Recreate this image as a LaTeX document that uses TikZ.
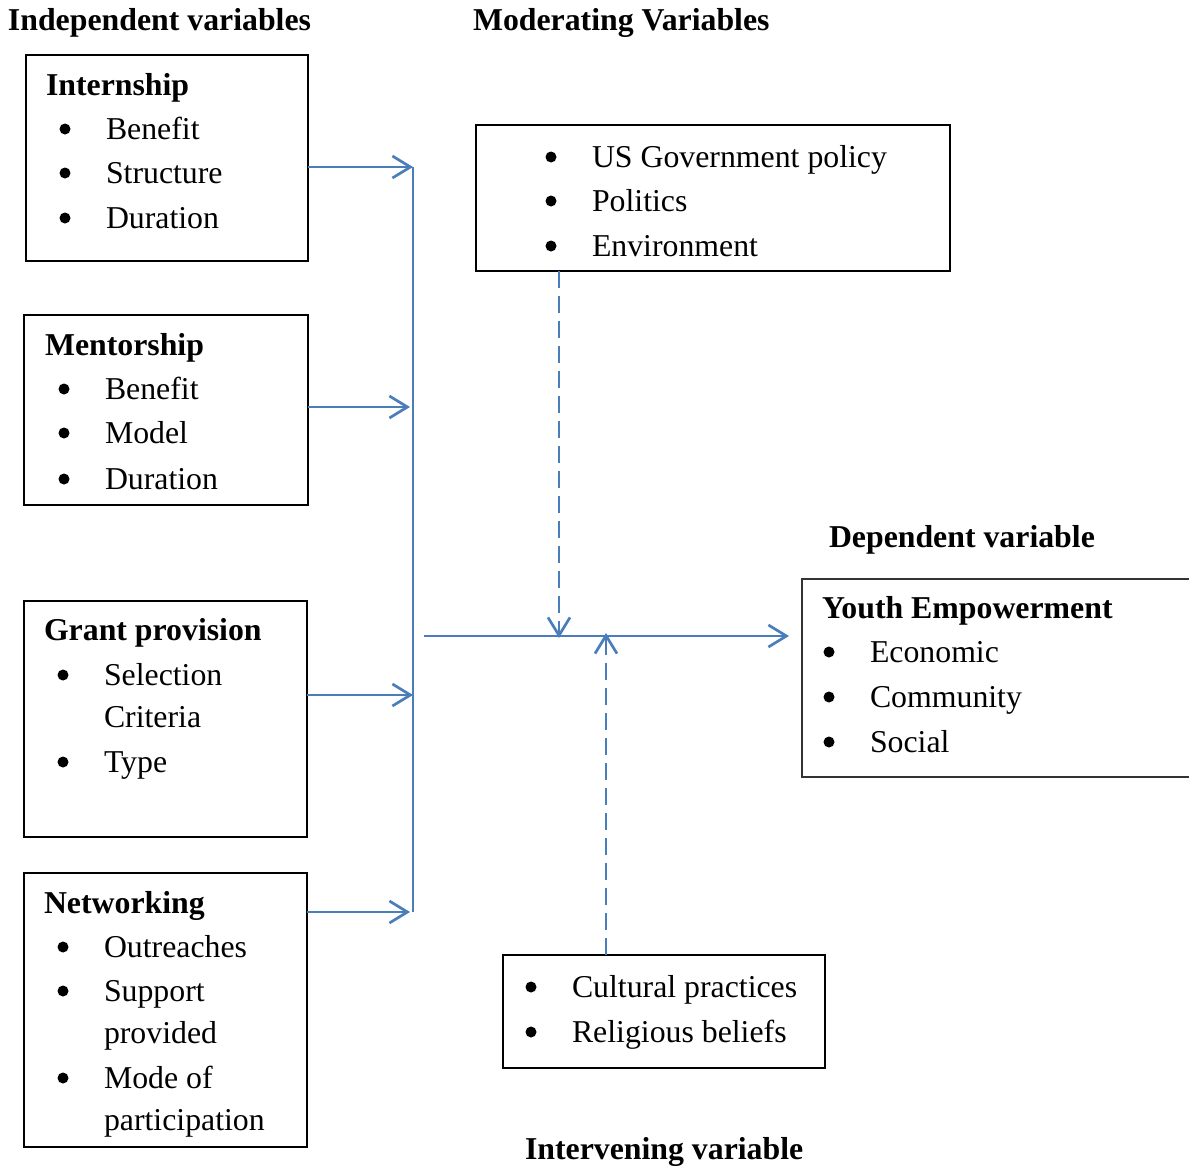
\documentclass[tikz,border=0pt]{standalone}
\usepackage{fontspec}
\setmainfont{Liberation Serif}
\usetikzlibrary{arrows.meta}
\definecolor{arrowblue}{HTML}{4A7EBB}
\begin{document}
\begin{tikzpicture}[x=1pt,y=-1pt,
  every node/.style={font=\fontsize{31.8}{38}\selectfont, inner sep=0pt, outer sep=0pt},
  box/.style={draw=black, line width=1.3pt, rectangle, anchor=north west},
  txt/.style={anchor=base west},
  hd/.style={anchor=base west, font=\fontsize{31.8}{38}\selectfont\bfseries},
  bul/.style={circle, fill=black, minimum size=11pt, yshift=10pt},
  conn/.style={draw=arrowblue, line width=2.7pt},
  tip/.style={-{Straight Barb[length=18pt,width=22pt]}},
  dsh/.style={dash pattern=on 17pt off 8pt}]
\useasboundingbox (0,0) rectangle (1189,1167);

% headings
\node[hd] (hIndep) at (8,30) {Independent variables};
\node[hd] (hMod) at (473,30) {Moderating Variables};
\node[hd] (hDep) at (829,547) {Dependent variable};
\node[hd] (hInt) at (525,1159) {Intervening variable};

% boxes
\node[box, minimum width=282pt, minimum height=206pt] (intern) at (26,55) {};
\node[box, minimum width=284pt, minimum height=190pt] (mentor) at (24,315) {};
\node[box, minimum width=283pt, minimum height=236pt] (grant) at (24,601) {};
\node[box, minimum width=283pt, minimum height=274pt] (network) at (24,873) {};
\node[box, minimum width=474pt, minimum height=146pt] (mod) at (476,125) {};
\node[box, minimum width=322pt, minimum height=113pt] (inter) at (503,955) {};
\node[box, minimum width=400pt, minimum height=198pt, draw=black!80] (dep) at (802,579) {};

% Internship
\node[hd] (t1) at (46,95) {Internship};
\node[bul] (b11) at (65,139) {};
\node[txt] (t11) at (106,139) {Benefit};
\node[bul] (b12) at (65,183) {};
\node[txt] (t12) at (106,183) {Structure};
\node[bul] (b13) at (65,228) {};
\node[txt] (t13) at (106,228) {Duration};

% Mentorship
\node[hd] (t2) at (45,355) {Mentorship};
\node[bul] (b21) at (64,399) {};
\node[txt] (t21) at (105,399) {Benefit};
\node[bul] (b22) at (64,443) {};
\node[txt] (t22) at (105,443) {Model};
\node[bul] (b23) at (64,489) {};
\node[txt] (t23) at (105,489) {Duration};

% Grant provision
\node[hd] (t3) at (44,640) {Grant provision};
\node[bul] (b31) at (63,685) {};
\node[txt] (t31) at (104,685) {Selection};
\node[txt] (t31b) at (104,727) {Criteria};
\node[bul] (b32) at (63,772) {};
\node[txt] (t32) at (104,772) {Type};

% Networking
\node[hd] (t4) at (44,913) {Networking};
\node[bul] (b41) at (63,957) {};
\node[txt] (t41) at (104,957) {Outreaches};
\node[bul] (b42) at (63,1001) {};
\node[txt] (t42) at (104,1001) {Support};
\node[txt] (t42b) at (104,1043) {provided};
\node[bul] (b43) at (63,1088) {};
\node[txt] (t43) at (104,1088) {Mode of};
\node[txt] (t43b) at (104,1130) {participation};

% Moderating
\node[bul] (bm1) at (551,167) {};
\node[txt] (tm1) at (592,167) {US Government policy};
\node[bul] (bm2) at (551,211) {};
\node[txt] (tm2) at (592,211) {Politics};
\node[bul] (bm3) at (551,256) {};
\node[txt] (tm3) at (592,256) {Environment};

% Intervening
\node[bul] (bi1) at (531,997) {};
\node[txt] (ti1) at (572,997) {Cultural practices};
\node[bul] (bi2) at (531,1042) {};
\node[txt] (ti2) at (572,1042) {Religious beliefs};

% Dependent
\node[hd] (td) at (822,618) {Youth Empowerment};
\node[bul] (bd1) at (829,662) {};
\node[txt] (td1) at (870,662) {Economic};
\node[bul] (bd2) at (829,707) {};
\node[txt] (td2) at (870,707) {Community};
\node[bul] (bd3) at (829,752) {};
\node[txt] (td3) at (870,752) {Social};

% connectors
\coordinate (j1) at (413,167);
\coordinate (j2) at (410,407);
\coordinate (j3) at (413,695);
\coordinate (j4) at (410,912);
\coordinate (vtop) at (413,167);
\coordinate (vbot) at (413,912);
\coordinate (m0) at (424,636);
\coordinate (m1) at (789,636);
\coordinate (d1) at (559,638);
\coordinate (u1) at (606,633);

\draw[conn,tip] (intern.east |- j1) -- (j1);
\draw[conn,tip] (mentor.east |- j2) -- (j2);
\draw[conn,tip] (grant.east |- j3) -- (j3);
\draw[conn,tip] (network.east |- j4) -- (j4);
\draw[conn] (vtop) -- (vbot);
\draw[conn,tip] (m0) -- (m1);
\draw[conn,dsh,tip] (mod.south -| d1) -- (d1);
\draw[conn,dsh,tip] (inter.north -| u1) -- (u1);
\end{tikzpicture}
\end{document}
